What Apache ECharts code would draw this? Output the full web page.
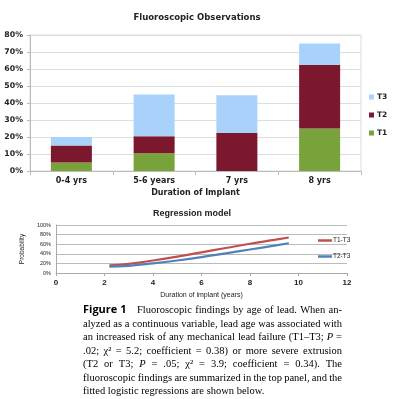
<!DOCTYPE html>
<html><head><meta charset="utf-8">
<script src="https://cdn.jsdelivr.net/npm/echarts@6/dist/echarts.min.js"></script>
<style>html,body{margin:0;padding:0;background:#fff}#c{width:400px;height:399px}</style>
</head><body><div id="c"></div>
<script>
// ---- Top panel data ----
const categories = ['0-4 yrs', '5-6 years', '7 yrs', '8 yrs'];
const t1 = [5, 10.5, 0, 25];
const t2 = [10, 10, 22.3, 37.5];
const t3 = [5, 24.5, 22.2, 12.5];
const yTicksTop = [0, 10, 20, 30, 40, 50, 60, 70, 80];

// ---- Bottom panel data ----
const regX = [2.2, 3, 4, 5, 6, 7, 8, 9, 9.6];
const regT1T3 = [16, 19, 26, 34, 43, 52, 61, 69, 74];
const regT2T3 = [13, 15, 20, 26, 33, 41, 49, 57, 62];

// ---- Caption ----
const captionLines = [
  'Fluoroscopic findings by age of lead. When an-',
  'alyzed as a continuous variable, lead age was associated with',
  'an increased risk of any mechanical lead failure (T1–T3; *P =',
  '.02; χ² = 5.2; coefficient = 0.38) or more severe extrusion',
  '(T2 or T3; *P = .05; χ² = 3.9; coefficient = 0.34). The',
  'fluoroscopic findings are summarized in the top panel, and the',
  'fitted logistic regressions are shown below.'
];

const chart = echarts.init(document.getElementById('c'), null, {renderer: 'canvas'});

const topFont = 'DejaVu Sans';
const serif = 'Liberation Serif';
const capSize = 10.5;
const ctx = document.createElement('canvas').getContext('2d');
function measure(text, italic, size, family, weight) {
  ctx.font = (italic ? 'italic ' : '') + (weight || 'normal') + ' ' + size + 'px "' + family + '"';
  return ctx.measureText(text).width;
}
const graphics = [];
graphics.push({type: 'text', left: 83, top: 304, style: {text: 'Figure 1', fontFamily: 'Open Sans', fontWeight: 'bold', fontSize: 11, fill: '#000'}});
const lineTop = [305, 318.5, 332, 345.5, 359, 372.5, 386];
captionLines.forEach((line, i) => {
  const x0 = i === 0 ? 137 : 83;
  const x1 = 342;
  const toks = line.split(' ').map(w => ({text: w.replace(/^\*/, ''), italic: w.startsWith('*')}));
  const widths = toks.map(t => measure(t.text, t.italic, capSize, serif));
  const sum = widths.reduce((a, b) => a + b, 0);
  const last = i === captionLines.length - 1;
  const gap = last ? measure(' ', false, capSize, serif) : (x1 - x0 - sum) / (toks.length - 1);
  let x = x0;
  toks.forEach((t, k) => {
    graphics.push({type: 'text', x: x, y: lineTop[i], style: {text: t.text, fontFamily: serif, fontSize: capSize, fontStyle: t.italic ? 'italic' : 'normal', fill: '#000'}});
    x += widths[k] + gap;
  });
});

const option = {
  animation: false,
  backgroundColor: '#fff',
  title: [
    {text: 'Fluoroscopic Observations', left: 192, top: 8, textAlign: 'center',
     textStyle: {fontFamily: topFont, fontWeight: 'bold', fontSize: 8.5, color: '#222'}},
    {text: 'Regression model', left: 187, top: 204, textAlign: 'center',
     textStyle: {fontFamily: 'Liberation Sans', fontWeight: 'bold', fontSize: 9, color: '#222'}}
  ],
  legend: [
    {orient: 'vertical', left: 364, top: 88, itemGap: 10, icon: 'rect', itemWidth: 5, itemHeight: 5,
     data: ['T3', 'T2', 'T1'], textStyle: {fontFamily: topFont, fontWeight: 'bold', fontSize: 7.5, color: '#222', padding: [0, 0, 0, -2]}},
    {orient: 'vertical', left: 313, top: 232, itemGap: 9, icon: 'rect', itemWidth: 14, itemHeight: 2.5,
     data: ['T1-T3', 'T2-T3'], textStyle: {fontFamily: 'Liberation Sans', fontSize: 6.5, color: '#222', padding: [0, 0, 0, -4]}}
  ],
  grid: [
    {left: 30, top: 35, width: 331, height: 136, show: true, borderColor: '#ddd', borderWidth: 1},
    {left: 56, top: 225, width: 291, height: 48}
  ],
  xAxis: [
    {type: 'category', gridIndex: 0, data: categories,
     name: 'Duration of Implant', nameLocation: 'middle', nameGap: 18,
     nameTextStyle: {fontFamily: topFont, fontWeight: 'bold', fontSize: 8, color: '#222'},
     axisLine: {lineStyle: {color: '#bbb'}}, axisTick: {show: true, length: 4, lineStyle: {color: '#bbb'}},
     axisLabel: {fontFamily: topFont, fontWeight: 'bold', fontSize: 8, color: '#222', margin: 6}},
    {type: 'value', gridIndex: 1, min: 0, max: 12, interval: 2,
     name: 'Duration of implant (years)', nameLocation: 'middle', nameGap: 19,
     nameTextStyle: {fontFamily: 'Liberation Sans', fontSize: 7, color: '#222'},
     axisLine: {lineStyle: {color: '#aaa'}}, axisTick: {show: true, length: 3, lineStyle: {color: '#aaa'}},
     splitLine: {show: false},
     axisLabel: {fontFamily: 'Liberation Sans', fontWeight: 'bold', fontSize: 8, color: '#222', margin: 6}}
  ],
  yAxis: [
    {type: 'value', gridIndex: 0, min: 0, max: 80, interval: 10,
     axisLine: {show: true, lineStyle: {color: '#bbb'}}, axisTick: {show: true, length: 3, lineStyle: {color: '#bbb'}},
     splitLine: {lineStyle: {color: '#ddd'}},
     axisLabel: {fontFamily: topFont, fontWeight: 'bold', fontSize: 7.8, color: '#222', margin: 7,
       formatter: v => yTicksTop.includes(v) ? v + '%' : ''}},
    {type: 'value', gridIndex: 1, min: 0, max: 100, interval: 20,
     name: 'Probability', nameLocation: 'middle', nameGap: 22, nameRotate: 90,
     nameTextStyle: {fontFamily: 'Liberation Sans', fontSize: 6.5, color: '#222'},
     axisLine: {show: true, lineStyle: {color: '#aaa'}}, axisTick: {show: false},
     splitLine: {lineStyle: {color: '#bbb'}},
     axisLabel: {fontFamily: 'Liberation Sans', fontSize: 5.5, color: '#222', margin: 5, formatter: '{value}%'}}
  ],
  series: [
    {name: 'T1', type: 'bar', stack: 's', xAxisIndex: 0, yAxisIndex: 0, data: t1, barWidth: 41,
     itemStyle: {color: '#78a23a'}},
    {name: 'T2', type: 'bar', stack: 's', xAxisIndex: 0, yAxisIndex: 0, data: t2, barWidth: 41,
     itemStyle: {color: '#7c182e'}},
    {name: 'T3', type: 'bar', stack: 's', xAxisIndex: 0, yAxisIndex: 0, data: t3, barWidth: 41,
     itemStyle: {color: '#a9d2fb'}},
    {name: 'T1-T3', type: 'line', xAxisIndex: 1, yAxisIndex: 1, smooth: true, showSymbol: false,
     data: regX.map((x, i) => [x, regT1T3[i]]), lineStyle: {color: '#c0504d', width: 2.2}, itemStyle: {color: '#c0504d'}},
    {name: 'T2-T3', type: 'line', xAxisIndex: 1, yAxisIndex: 1, smooth: true, showSymbol: false,
     data: regX.map((x, i) => [x, regT2T3[i]]), lineStyle: {color: '#4f81bd', width: 2.2}, itemStyle: {color: '#4f81bd'}}
  ],
  graphic: graphics
};
chart.setOption(option);
</script></body></html>
